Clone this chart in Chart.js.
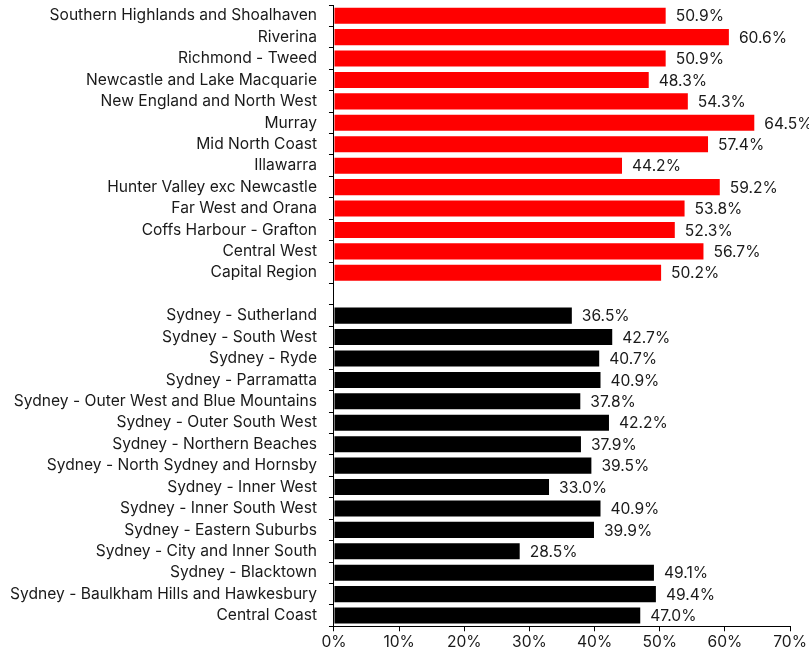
<!DOCTYPE html>
<html><head><meta charset="utf-8">
<script src="https://cdn.jsdelivr.net/npm/chart.js@4/dist/chart.umd.min.js"></script>
<style>html,body{margin:0;padding:0;background:#fff}#wrap{width:809px;height:657px}</style>
</head><body><div id="wrap"><canvas id="c" width="809" height="657"></canvas></div>
<script>
const regionalLabels = ["Southern Highlands and Shoalhaven","Riverina","Richmond - Tweed","Newcastle and Lake Macquarie","New England and North West","Murray","Mid North Coast","Illawarra","Hunter Valley exc Newcastle","Far West and Orana","Coffs Harbour - Grafton","Central West","Capital Region"];
const regionalValues = [50.9,60.6,50.9,48.3,54.3,64.5,57.4,44.2,59.2,53.8,52.3,56.7,50.2];
const sydneyLabels = ["Sydney - Sutherland","Sydney - South West","Sydney - Ryde","Sydney - Parramatta","Sydney - Outer West and Blue Mountains","Sydney - Outer South West","Sydney - Northern Beaches","Sydney - North Sydney and Hornsby","Sydney - Inner West","Sydney - Inner South West","Sydney - Eastern Suburbs","Sydney - City and Inner South","Sydney - Blacktown","Sydney - Baulkham Hills and Hawkesbury","Central Coast"];
const sydneyValues = [36.5,42.7,40.7,40.9,37.8,42.2,37.9,39.5,33.0,40.9,39.9,28.5,49.1,49.4,47.0];
const xTicks = [0,10,20,30,40,50,60,70];

const labels = [...regionalLabels, "", ...sydneyLabels];
const values = [...regionalValues, null, ...sydneyValues];
const colors = [...regionalValues.map(()=>"#ff0000"), "#ffffff", ...sydneyValues.map(()=>"#000000")];
const FONT = "Inter";
const FSIZE = 15.6;
const TXT = "#1a1a1a";

const valueLabels = {
  id: "valueLabels",
  afterDatasetsDraw(chart) {
    const ctx = chart.ctx;
    const meta = chart.getDatasetMeta(0);
    ctx.save();
    ctx.font = FSIZE + "px " + FONT;
    ctx.fillStyle = TXT;
    ctx.textAlign = "left";
    ctx.textBaseline = "middle";
    meta.data.forEach((bar, i) => {
      const v = values[i];
      if (v === null) return;
      ctx.fillText(v.toFixed(1) + "%", bar.x + 10, bar.y + 1);
    });
    ctx.restore();
  }
};

new Chart(document.getElementById("c"), {
  type: "bar",
  data: { labels, datasets: [{ data: values, backgroundColor: colors, barPercentage: 0.75, categoryPercentage: 1 }] },
  options: {
    indexAxis: "y",
    responsive: false,
    animation: false,
    layout: { padding: { top: 5, right: -3, left: -2, bottom: 3 } },
    plugins: { legend: { display: false }, tooltip: { enabled: false } },
    scales: {
      x: {
        min: 0, max: 70,
        afterBuildTicks(axis) { axis.ticks = xTicks.map(v => ({ value: v })); },
        ticks: { callback: v => v + "%", color: TXT, font: { family: FONT, size: FSIZE }, padding: 2, maxRotation: 0 },
        grid: { drawOnChartArea: false, tickLength: 5, color: "#000" },
        border: { display: true, color: "#000", width: 1 }
      },
      y: {
        afterFit(axis) { axis.paddingTop = 0; axis.paddingBottom = 0; },
        ticks: { color: TXT, font: { family: FONT, size: FSIZE }, padding: 12, autoSkip: false },
        grid: { drawOnChartArea: false, tickLength: 5, color: "#000", offset: true },
        border: { display: true, color: "#000", width: 1 }
      }
    }
  },
  plugins: [valueLabels]
});
</script></body></html>
